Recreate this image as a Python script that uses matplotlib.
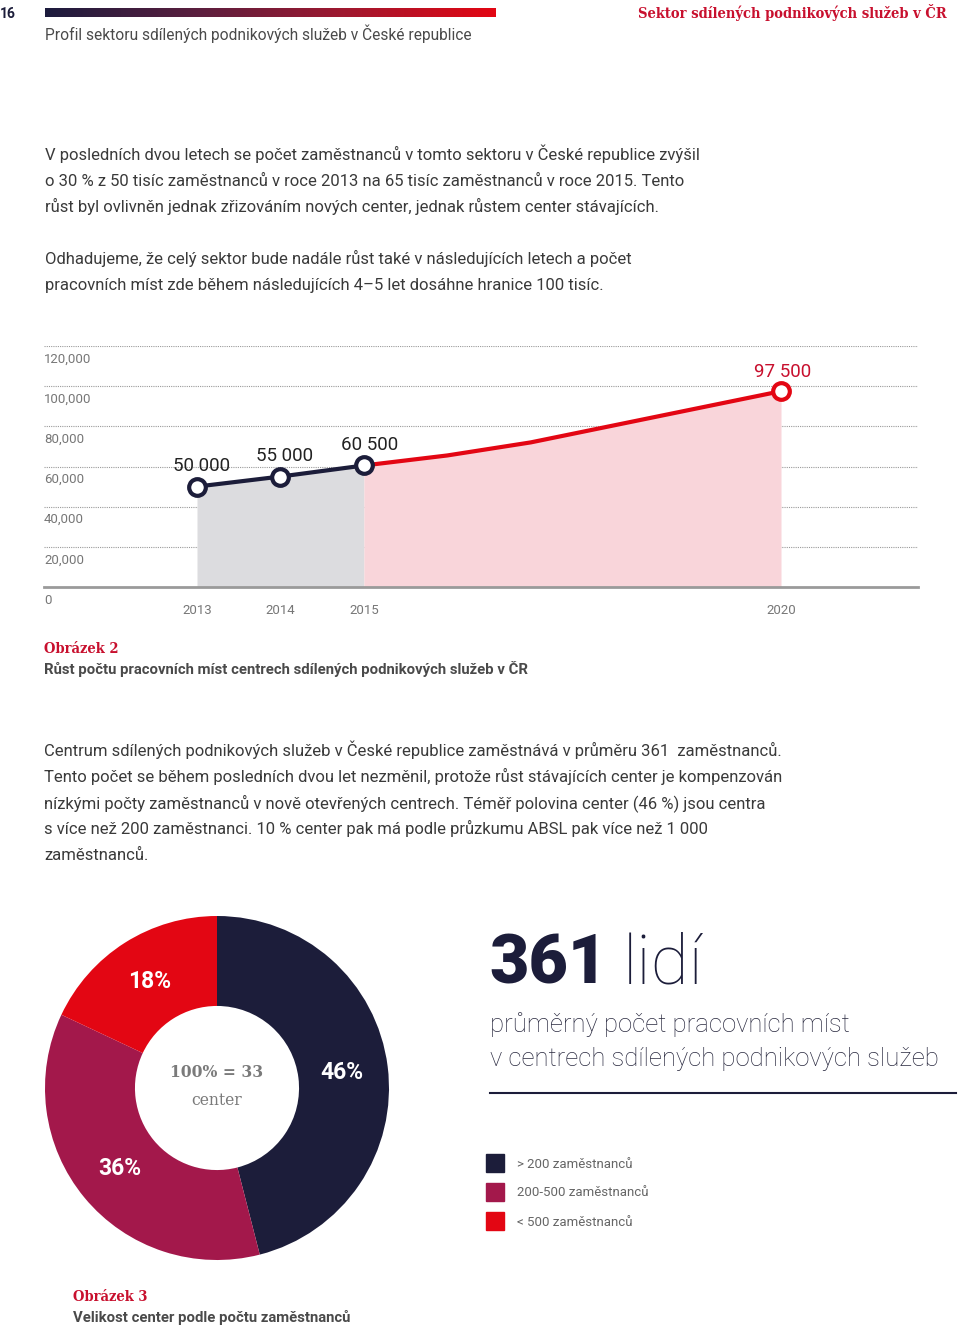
import matplotlib
matplotlib.use("Agg")
import matplotlib.pyplot as plt
import numpy as np
from matplotlib.colors import LinearSegmentedColormap
from matplotlib.patches import Rectangle
from matplotlib.lines import Line2D
import matplotlib.transforms as mtransforms

# ---------------- data ----------------
years_hist = [2013, 2014, 2015]
jobs_hist = [50000, 55000, 60500]
years_fore = [2015, 2016, 2017, 2018, 2019, 2020]
jobs_fore = [60500, 65500, 72000, 80500, 89000, 97500]
labeled_years = [2013, 2014, 2015, 2020]
labeled_values = [50000, 55000, 60500, 97500]
value_labels = ["50 000", "55 000", "60 500", "97 500"]
y_ticks = [0, 20000, 40000, 60000, 80000, 100000, 120000]
y_tick_labels = ["0", "20,000", "40,000", "60,000", "80,000", "100,000", "120,000"]
x_ticks = [2013, 2014, 2015, 2020]

donut_labels = ["> 200 zaměstnanců", "200-500 zaměstnanců", "< 500 zaměstnanců"]
donut_values = [46, 36, 18]
donut_center = ["100% = 33", "center"]

# ---------------- styles ----------------
NAVY = "#1c1d3a"
CRIMSON = "#a3184b"
RED = "#e30613"
DARKRED = "#c8102e"
TEXT = "#3a3a3a"
GRAY = "#777777"
W, H = 960, 1327
BODY = "Roboto"
SLAB = "DejaVu Serif"

fig = plt.figure(figsize=(W / 100, H / 100), dpi=100)
fig.patch.set_facecolor("white")


def T(x, y, s, **kw):
    kw.setdefault("va", "baseline")
    kw.setdefault("ha", "left")
    return fig.text(x / W, 1 - y / H, s, **kw)


def ax_px(x, y, w, h):
    return fig.add_axes([x / W, 1 - (y + h) / H, w / W, h / H])


# ---------------- header ----------------
T(0, 18, "16", fontsize=10, fontweight="bold", color=NAVY, family=BODY)
gax = ax_px(45, 8, 451, 9)
cmap = LinearSegmentedColormap.from_list("hdr", ["#1c1b3d", "#5a1f3f", "#a0182f", "#e30613"])
gax.imshow(np.linspace(0, 1, 256)[None, :], aspect="auto", cmap=cmap)
gax.axis("off")
T(45, 40, "Profil sektoru sdílených podnikových služeb v České republice",
  fontsize=11.2, color="#4a4a4a", family=BODY)
T(947, 18, "Sektor sdílených podnikových služeb v ČR", ha="right",
  fontsize=10.5, color=DARKRED, family=SLAB, fontweight="bold", fontstretch="condensed")

# ---------------- paragraphs ----------------
para1 = ["V posledních dvou letech se počet zaměstnanců v tomto sektoru v České republice zvýšil",
         "o 30 % z 50 tisíc zaměstnanců v roce 2013 na 65 tisíc zaměstnanců v roce 2015. Tento",
         "růst byl ovlivněn jednak zřizováním nových center, jednak růstem center stávajících."]
para2 = ["Odhadujeme, že celý sektor bude nadále růst také v následujících letech a počet",
         "pracovních míst zde během následujících 4–5 let dosáhne hranice 100 tisíc."]
para3 = ["Centrum sdílených podnikových služeb v České republice zaměstnává v průměru 361  zaměstnanců.",
         "Tento počet se během posledních dvou let nezměnil, protože růst stávajících center je kompenzován",
         "nízkými počty zaměstnanců v nově otevřených centrech. Téměř polovina center (46 %) jsou centra",
         "s více než 200 zaměstnanci. 10 % center pak má podle průzkumu ABSL pak více než 1 000",
         "zaměstnanců."]
BS = 12.0
for i, line in enumerate(para1):
    T(45, 160 + 26 * i, line, fontsize=BS, color=TEXT, family=BODY)
for i, line in enumerate(para2):
    T(45, 264 + 26 * i, line, fontsize=BS, color=TEXT, family=BODY)
for i, line in enumerate(para3):
    T(44, 756 + 26 * i, line, fontsize=BS, color=TEXT, family=BODY)

# ---------------- line chart ----------------
ax = ax_px(44, 346, 874, 241)
x_left = 2013 - (197 - 44) / 83.43
x_right = 2020 + (918 - 781) / 83.43
ax.set_xlim(x_left, x_right)
ax.set_ylim(0, 120000)
for s in ax.spines.values():
    s.set_visible(False)
ax.set_xticks([])
ax.set_yticks([])
for v in y_ticks[1:]:
    ax.axhline(v, color="#9a9a9a", lw=0.8, ls=(0, (1, 1)), zorder=0)
ax.axhline(0, color="#9a9a9a", lw=2, zorder=3, clip_on=False)

ax.fill_between(years_hist, jobs_hist, 0, color="#dcdcdf", lw=0, zorder=1)
ax.fill_between(years_fore, jobs_fore, 0, color="#f9d5da", lw=0, zorder=1)
ax.plot(years_fore, jobs_fore, color=RED, lw=3, zorder=4, solid_joinstyle="round")
ax.plot(years_hist, jobs_hist, color=NAVY, lw=3, zorder=5)
ax.plot(years_hist, jobs_hist, ls="none", marker="o", ms=12, mfc="white", mec=NAVY, mew=3, zorder=6)
ax.plot([years_fore[-1]], [jobs_fore[-1]], ls="none", marker="o", ms=12, mfc="white", mec=RED, mew=3, zorder=6)

offsets = [(3, 8), (3, 8), (4, 8), (1, 7)]
for yr, v, lab, off in zip(labeled_years, labeled_values, value_labels, offsets):
    ax.annotate(lab, (yr, v), xytext=off, textcoords="offset points", ha="center", va="bottom",
                fontsize=13.5, color=(DARKRED if yr == 2020 else "#222222"), family=BODY, zorder=7)

ytrans = mtransforms.blended_transform_factory(ax.transAxes, ax.transData)
for v, lab in zip(y_ticks, y_tick_labels):
    ax.text(0, v, lab, transform=ytrans + mtransforms.ScaledTranslation(0, -13 / 100, fig.dpi_scale_trans),
            ha="left", va="center", fontsize=9.5, color=GRAY, family=BODY)
xtrans = mtransforms.blended_transform_factory(ax.transData, ax.transAxes)
for yr in x_ticks:
    ax.text(yr, 0, str(yr), transform=xtrans + mtransforms.ScaledTranslation(0, -23 / 100, fig.dpi_scale_trans),
            ha="center", va="center", fontsize=9.5, color=GRAY, family=BODY)

T(44, 653, "Obrázek 2", fontsize=10.5, color=DARKRED, family=SLAB, fontweight="bold", fontstretch="condensed")
T(44, 674, "Růst počtu pracovních míst centrech sdílených podnikových služeb v ČR",
  fontsize=10.7, color="#4a4a4a", family=BODY, fontweight="bold")

# ---------------- donut ----------------
dax = ax_px(45, 916, 344, 344)
colors = [NAVY, CRIMSON, RED]
wedges, _, autotexts = dax.pie(donut_values, colors=colors, startangle=90, counterclock=False,
                               radius=1, wedgeprops=dict(width=0.523, lw=0),
                               autopct=lambda p: f"{p:.0f}%", pctdistance=0.73)
for t in autotexts:
    t.set_color("white")
    t.set_fontsize(16.5)
    t.set_fontweight("bold")
    t.set_family(BODY)
dax.set_xlim(-1, 1)
dax.set_ylim(-1, 1)
dax.set_aspect("equal")
dax.text(0, 0.09, donut_center[0], ha="center", va="center", fontsize=12.5, color="#7a7a7a",
         family=SLAB, fontweight="bold", fontstretch="condensed")
dax.text(0, -0.07, donut_center[1], ha="center", va="center", fontsize=12.5, color="#7a7a7a",
         family=SLAB, fontstretch="condensed")

# ---------------- big number ----------------
T(489, 983, "361", fontsize=49, color=NAVY, family=BODY, fontweight=900)
T(623, 983, "lidí", fontsize=50, color=NAVY, family=BODY, fontweight=100)
T(490, 1032, "průměrný počet pracovních míst", fontsize=18.5, color="#2a2a40", family=BODY, fontweight="light")
T(490, 1066, "v centrech sdílených podnikových služeb", fontsize=18.5, color="#2a2a40", family=BODY, fontweight="light")
fig.add_artist(Line2D([490 / W, 956 / W], [1 - 1093 / H, 1 - 1093 / H], color=NAVY, lw=1.5))

# legend
for i, (lab, c) in enumerate(zip(donut_labels, colors)):
    top = 1154 + 29 * i
    fig.add_artist(Rectangle((486 / W, 1 - (top + 18) / H), 18 / W, 18 / H, color=c, transform=fig.transFigure))
    T(517, top + 10, lab, va="center", fontsize=9.5, color="#666666", family=BODY)

T(73, 1301, "Obrázek 3", fontsize=10.5, color=DARKRED, family=SLAB, fontweight="bold", fontstretch="condensed")
T(73, 1322, "Velikost center podle počtu zaměstnanců", fontsize=10.7, color="#4a4a4a", family=BODY, fontweight="bold")

fig.savefig("out.png", dpi=100, facecolor="white")
